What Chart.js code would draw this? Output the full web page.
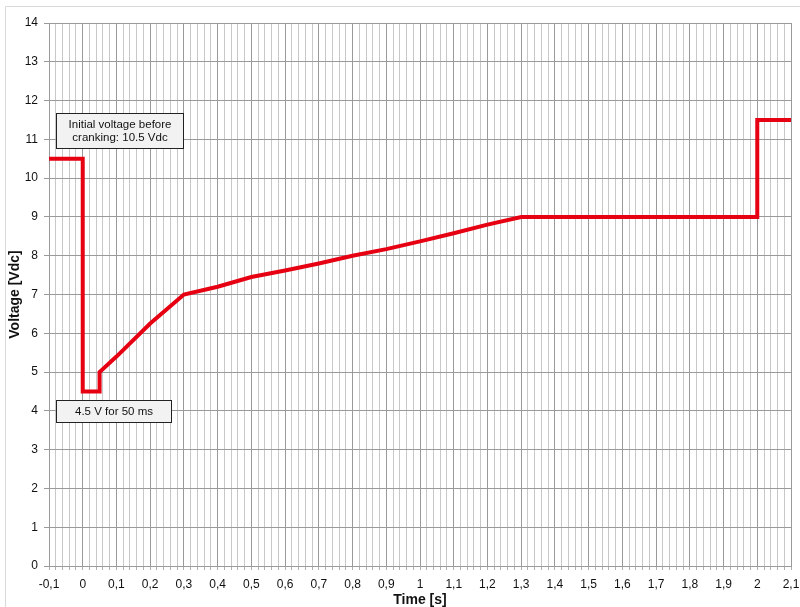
<!DOCTYPE html>
<html>
<head>
<meta charset="utf-8">
<script src="https://cdn.jsdelivr.net/npm/chart.js@4.4.1/dist/chart.umd.min.js"></script>
<style>
  html, body { margin: 0; padding: 0; background: #fff; }
  canvas { display: block; }
</style>
</head>
<body>
<canvas id="chart" width="800" height="607"></canvas>
<script>
// cranking profile
const timeS   = [-0.1, 0, 0, 0.05, 0.05, 0.1, 0.2, 0.3, 0.4, 0.5, 0.6, 0.7, 0.8, 0.9, 1.0, 1.1, 1.2, 1.3, 2.0, 2.0, 2.1];
const voltage = [10.5, 10.5, 4.5, 4.5, 5.0, 5.4, 6.25, 7.0, 7.2, 7.45, 7.62, 7.8, 8.0, 8.17, 8.37, 8.58, 8.8, 9.0, 9.0, 11.5, 11.5];

const xMajorTicks = [-0.1, 0, 0.1, 0.2, 0.3, 0.4, 0.5, 0.6, 0.7, 0.8, 0.9, 1, 1.1, 1.2, 1.3, 1.4, 1.5, 1.6, 1.7, 1.8, 1.9, 2, 2.1];
const xMinorPerMajor = 5;
const yTicks = [0, 1, 2, 3, 4, 5, 6, 7, 8, 9, 10, 11, 12, 13, 14];

// text boxes: [x0, x1, yTop, yBottom] in data units, and their lines
const noteBoxes = [
  { box: [-0.079, 0.298, 11.68, 10.77], lines: ['Initial voltage before', 'cranking: 10.5 Vdc'] },
  { box: [-0.079, 0.262, 4.28, 3.72], lines: ['4.5 V for 50 ms'] }
];

const isMajor = v => Math.abs(v * 10 - Math.round(v * 10)) < 1e-6;
const fmt = v => String(Math.round(v * 10) / 10).replace('.', ',');

const frame = {
  id: 'frame',
  beforeDraw(chart) {
    const c = chart.ctx;
    c.save();
    c.strokeStyle = '#d9d9d9';
    c.lineWidth = 1;
    c.beginPath();
    c.moveTo(5.5, 607);
    c.lineTo(5.5, 6.5);
    c.lineTo(800, 6.5);
    c.stroke();
    c.restore();
  }
};

const notes = {
  id: 'notes',
  afterDatasetsDraw(chart) {
    const c = chart.ctx;
    const xs = chart.scales.x, ys = chart.scales.y;
    c.save();
    c.font = '11.5px "Liberation Sans", Arial, sans-serif';
    c.textAlign = 'center';
    c.textBaseline = 'middle';
    noteBoxes.forEach(n => {
      const l = Math.round(xs.getPixelForValue(n.box[0])) + 0.5;
      const r = Math.round(xs.getPixelForValue(n.box[1])) + 0.5;
      const t = Math.round(ys.getPixelForValue(n.box[2])) + 0.5;
      const b = Math.round(ys.getPixelForValue(n.box[3])) + 0.5;
      c.fillStyle = '#f2f2f2';
      c.fillRect(l, t, r - l, b - t);
      c.strokeStyle = '#222';
      c.lineWidth = 1;
      c.strokeRect(l, t, r - l, b - t);
      c.fillStyle = '#111';
      const lh = 12.5;
      const cy = (t + b) / 2 - (n.lines.length - 1) * lh / 2;
      n.lines.forEach((s, i) => c.fillText(s, (l + r) / 2, cy + i * lh + 0.5));
    });
    c.restore();
  }
};

const tickFont = { family: '"Liberation Sans", Arial, sans-serif', size: 12 };
const titleFont = { family: '"Liberation Sans", Arial, sans-serif', size: 14, weight: 'bold' };

new Chart(document.getElementById('chart'), {
  type: 'line',
  data: {
    datasets: [{
      data: timeS.map((t, i) => ({ x: t, y: voltage[i] })),
      borderColor: '#e60012',
      borderWidth: 4,
      borderJoinStyle: 'miter',
      pointRadius: 0,
      tension: 0,
      fill: false
    }]
  },
  options: {
    responsive: false,
    animation: false,
    layout: { padding: { top: 23, right: 9, left: 0, bottom: 0 } },
    plugins: { legend: { display: false }, tooltip: { enabled: false } },
    scales: {
      x: {
        type: 'linear',
        min: -0.1,
        max: 2.1,
        afterBuildTicks(scale) {
          const ticks = [];
          xMajorTicks.forEach((v, i) => {
            ticks.push({ value: v });
            if (i < xMajorTicks.length - 1) {
              const step = (xMajorTicks[i + 1] - v) / xMinorPerMajor;
              for (let k = 1; k < xMinorPerMajor; k++) ticks.push({ value: v + step * k });
            }
          });
          scale.ticks = ticks;
        },
        afterFit(scale) {
          scale.height = 41;
          scale.paddingLeft = 0;
          scale.paddingRight = 0;
        },
        ticks: {
          autoSkip: false,
          maxRotation: 0,
          padding: 7,
          color: '#111',
          font: tickFont,
          callback: v => isMajor(v) ? fmt(v) : ''
        },
        grid: {
          color: ctx => isMajor(ctx.tick.value) ? '#9a9a9a' : '#c8c8c8',
          tickColor: '#b0b0b0',
          lineWidth: 1,
          tickLength: 4
        },
        border: { color: '#9a9a9a', width: 1 },
        title: {
          display: true,
          text: 'Time [s]',
          color: '#111',
          font: titleFont,
          padding: { top: 0, bottom: -2 }
        }
      },
      y: {
        min: 0,
        max: 14,
        afterBuildTicks(scale) { scale.ticks = yTicks.map(v => ({ value: v })); },
        afterFit(scale) { scale.width = 49; },
        ticks: { padding: 6, color: '#111', font: tickFont },
        grid: { color: '#9a9a9a', tickColor: '#9a9a9a', lineWidth: 1, tickLength: 5 },
        border: { color: '#9a9a9a', width: 1 },
        title: {
          display: true,
          text: 'Voltage [Vdc]',
          color: '#111',
          font: titleFont,
          padding: { top: 7, bottom: 0 }
        }
      }
    }
  },
  plugins: [frame, notes]
});
</script>
</body>
</html>
